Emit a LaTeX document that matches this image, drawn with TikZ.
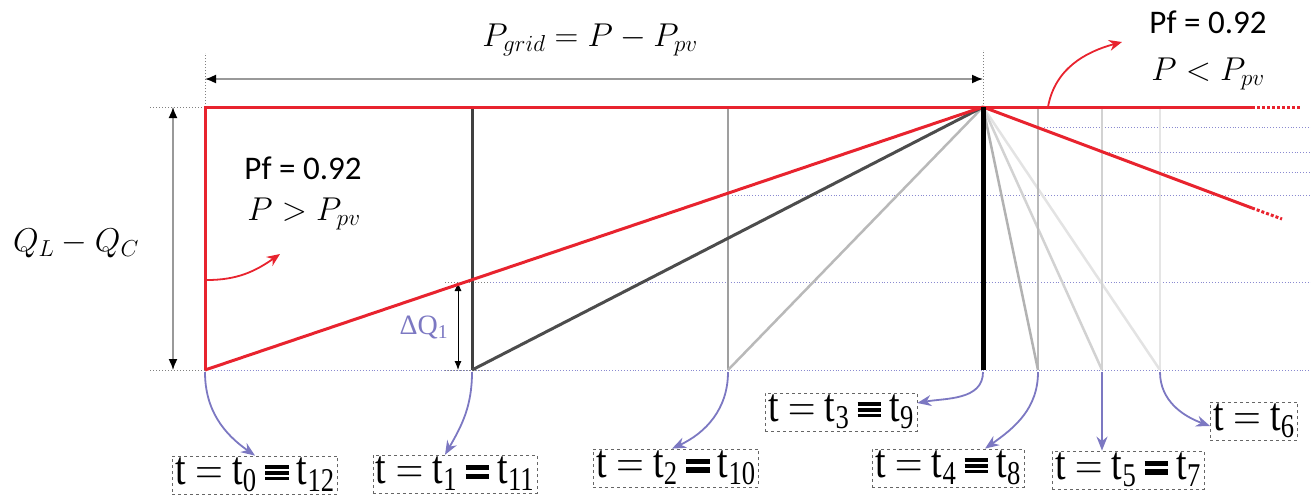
\RequirePackage{fix-cm}
\documentclass[tikz,border=0pt]{standalone}
\usepackage{fontspec}
\setmainfont{Liberation Serif}
\newfontfamily\calib{Carlito}
\usetikzlibrary{arrows.meta}
\definecolor{myred}{HTML}{E8232E}
\definecolor{myblue}{HTML}{7C78C2}
\definecolor{dotblue}{HTML}{8A8AD0}
\newcommand\tbar[1]{\rule{0.62em}{#1}}
\newcommand\heqv{\hspace{0.22em}\mbox{$\vcenter{\offinterlineskip\hbox{\tbar{0.075em}}\vskip0.045em\hbox{\tbar{0.075em}}\vskip0.045em\hbox{\tbar{0.075em}}}$}\hspace{0.22em}}
\newcommand\heqt{\hspace{0.22em}\mbox{$\vcenter{\offinterlineskip\hbox{\tbar{0.11em}}\vskip0.07em\hbox{\tbar{0.11em}}}$}\hspace{0.22em}}
\tikzset{
  redline/.style={myred, line width=3pt},
  dotb/.style={dotblue, dotted, line width=0.9pt},
  tickline/.style={gray, dotted, line width=1pt},
  tbox/.style={draw=gray!80!black, dashed, line width=0.6pt, inner xsep=3pt, inner ysep=2pt, font=\fontsize{38}{42}\selectfont},
  barrow/.style={myblue, line width=1.8pt, -{Stealth[length=14pt,width=11pt]}},
  rarrow/.style={myred, line width=1.8pt, -{Stealth[length=13pt,width=11pt]}},
  dimarrow/.style={gray!80, line width=1.6pt, {Latex[length=11pt,width=9pt,black]}-{Latex[length=11pt,width=9pt,black]}},
  mlabel/.style={font=\fontsize{33}{38}\selectfont},
  pflabel/.style={font=\calib\fontsize{33}{40}\selectfont}
}
\newcommand\tlab[1]{\scalebox{1}[1.25]{#1}}
\begin{document}
\begin{tikzpicture}[x=1pt,y=-1pt]
\useasboundingbox (0,0) rectangle (1311,499);
% key points
\coordinate (TL) at (205,107);
\coordinate (BL) at (205,370);
\coordinate (PV) at (983,107);
\coordinate (PB) at (983,370);
\coordinate (T1t) at (472,107); \coordinate (T1b) at (472,370);
\coordinate (T2t) at (728,107); \coordinate (T2b) at (728,370);
\coordinate (T4t) at (1038,107); \coordinate (T4b) at (1038,370);
\coordinate (T5t) at (1102,107); \coordinate (T5b) at (1102,370);
\coordinate (T6t) at (1160,107); \coordinate (T6b) at (1160,370);
\coordinate (RE) at (1252,107); \coordinate (REd) at (1300,107);
\coordinate (DE) at (1252,208); \coordinate (DEd) at (1282,219);
% dotted level lines
\draw[dotb] (212,370) -- (1311,370);
\draw[dotb] (490,282) -- (1311,282);
\draw[dotb] (732,195) -- (1311,195);
\draw[dotb] (1164,172) -- (1311,172);
\draw[dotb] (1106,152) -- (1311,152);
\draw[dotb] (1044,127) -- (1311,127);
% tick lines
\draw[tickline] (150,107) -- (TL);
\draw[tickline] (150,370) -- (BL);
\draw[tickline] (TL) -- (205,53);
\draw[tickline] (PV) -- (983,50);
\draw[tickline] (445,282) -- (490,282);
\draw[tickline] (445,370) -- (490,370);
% dimension arrows
\coordinate (LDt) at (173,107); \coordinate (LDb) at (173,370);
\draw[dimarrow] (LDb) -- (LDt);
\coordinate (TDl) at (205,79); \coordinate (TDr) at (983,79);
\draw[dimarrow] (TDl) -- (TDr);
\coordinate (DQt) at (458,282); \coordinate (DQb) at (458,370);
\draw[black, line width=1pt, {Latex[length=9pt,width=7pt]}-{Latex[length=9pt,width=7pt]}] (DQt) -- (DQb);
% gray lines
\draw[gray!20, line width=2.5pt] (T6t) -- (T6b);
\draw[gray!22, line width=2.5pt] (PV) -- (T6b);
\draw[gray!35, line width=2.5pt] (T5t) -- (T5b);
\draw[gray!35, line width=2.5pt] (PV) -- (T5b);
\draw[gray!55, line width=2.5pt] (T4t) -- (T4b);
\draw[gray!60, line width=2.5pt] (PV) -- (T4b);
\draw[gray!75, line width=2.5pt] (T2t) -- (T2b);
\draw[gray!55, line width=2.5pt] (T2b) -- (PV);
\draw[black!75, line width=3pt] (T1t) -- (T1b);
\draw[black!70, line width=3pt] (T1b) -- (PV);
% red lines
\draw[redline] (BL) -- (TL) -- (RE);
\draw[myred, line width=3pt, dotted] (RE) -- (REd);
\draw[redline] (BL) -- (PV);
\draw[redline] (PV) -- (DE);
\draw[myred, line width=3pt, dotted] (DE) -- (DEd);
% black t3 line
\draw[black, line width=5pt] (PV) -- (PB);
% labels
\node[mlabel] (pgrid) at (590,40) {$P_{grid}=P-P_{pv}$};
\node[mlabel] (qlqc) at (76,243) {$Q_L-Q_C$};
\node[pflabel] (pf1) at (303,168) {Pf = 0.92};
\node[mlabel] (pp1) at (304,214) {$P>P_{pv}$};
\node[pflabel] (pf2) at (1208,22) {Pf = 0.92};
\node[mlabel] (pp2) at (1208,74) {$P<P_{pv}$};
\node[myblue, font=\fontsize{28}{32}\selectfont] (dq) at (424,327) {ΔQ\textsubscript{1}};
% red curved arrows
\coordinate (ra1) at (207,280); \coordinate (ra1e) at (280,254);
\draw[rarrow] (ra1) to[out=0,in=215] (ra1e);
\coordinate (ra2) at (1048,107); \coordinate (ra2e) at (1122,42);
\draw[rarrow] (ra2) to[out=80,in=195] (ra2e);
% boxes
\node[tbox] (b0) at (255,475) {\tlab{t $=$ t\textsubscript{0}\heqv t\textsubscript{12}}};
\node[tbox] (b1) at (455,474) {\tlab{t $=$ t\textsubscript{1}\heqt t\textsubscript{11}}};
\node[tbox] (b2) at (676,468) {\tlab{t $=$ t\textsubscript{2}\heqt t\textsubscript{10}}};
\node[tbox] (b3) at (841,412) {\tlab{t $=$ t\textsubscript{3}\heqv t\textsubscript{9}}};
\node[tbox] (b4) at (948,468) {\tlab{t $=$ t\textsubscript{4}\heqv t\textsubscript{8}}};
\node[tbox] (b5) at (1128,470) {\tlab{t $=$ t\textsubscript{5}\heqt t\textsubscript{7}}};
\node[tbox] (b6) at (1254,421) {\tlab{t $=$ t\textsubscript{6}}};
% blue arrows
\coordinate (a0) at (205,372); \coordinate (a1) at (472,372); \coordinate (a2) at (728,372);
\coordinate (a3) at (983,372); \coordinate (a4) at (1038,372); \coordinate (a5) at (1102,372);
\coordinate (a6) at (1160,372);
\draw[barrow] (a0) to[out=-90,in=145] (b0.north);
\draw[barrow] (a1) to[out=-90,in=60] ([xshift=-10pt]b1.north);
\draw[barrow] (a2) to[out=-90,in=25] ([xshift=-4pt]b2.north);
\draw[barrow] (a3) to[out=-90,in=10] ([yshift=9pt]b3.east);
\draw[barrow] (a4) to[out=-90,in=35] ([xshift=37pt]b4.north);
\draw[barrow] (a5) -- (a5 |- b5.north);
\draw[barrow] (a6) to[out=-90,in=160] ([yshift=-5pt]b6.west);
\end{tikzpicture}
\end{document}
